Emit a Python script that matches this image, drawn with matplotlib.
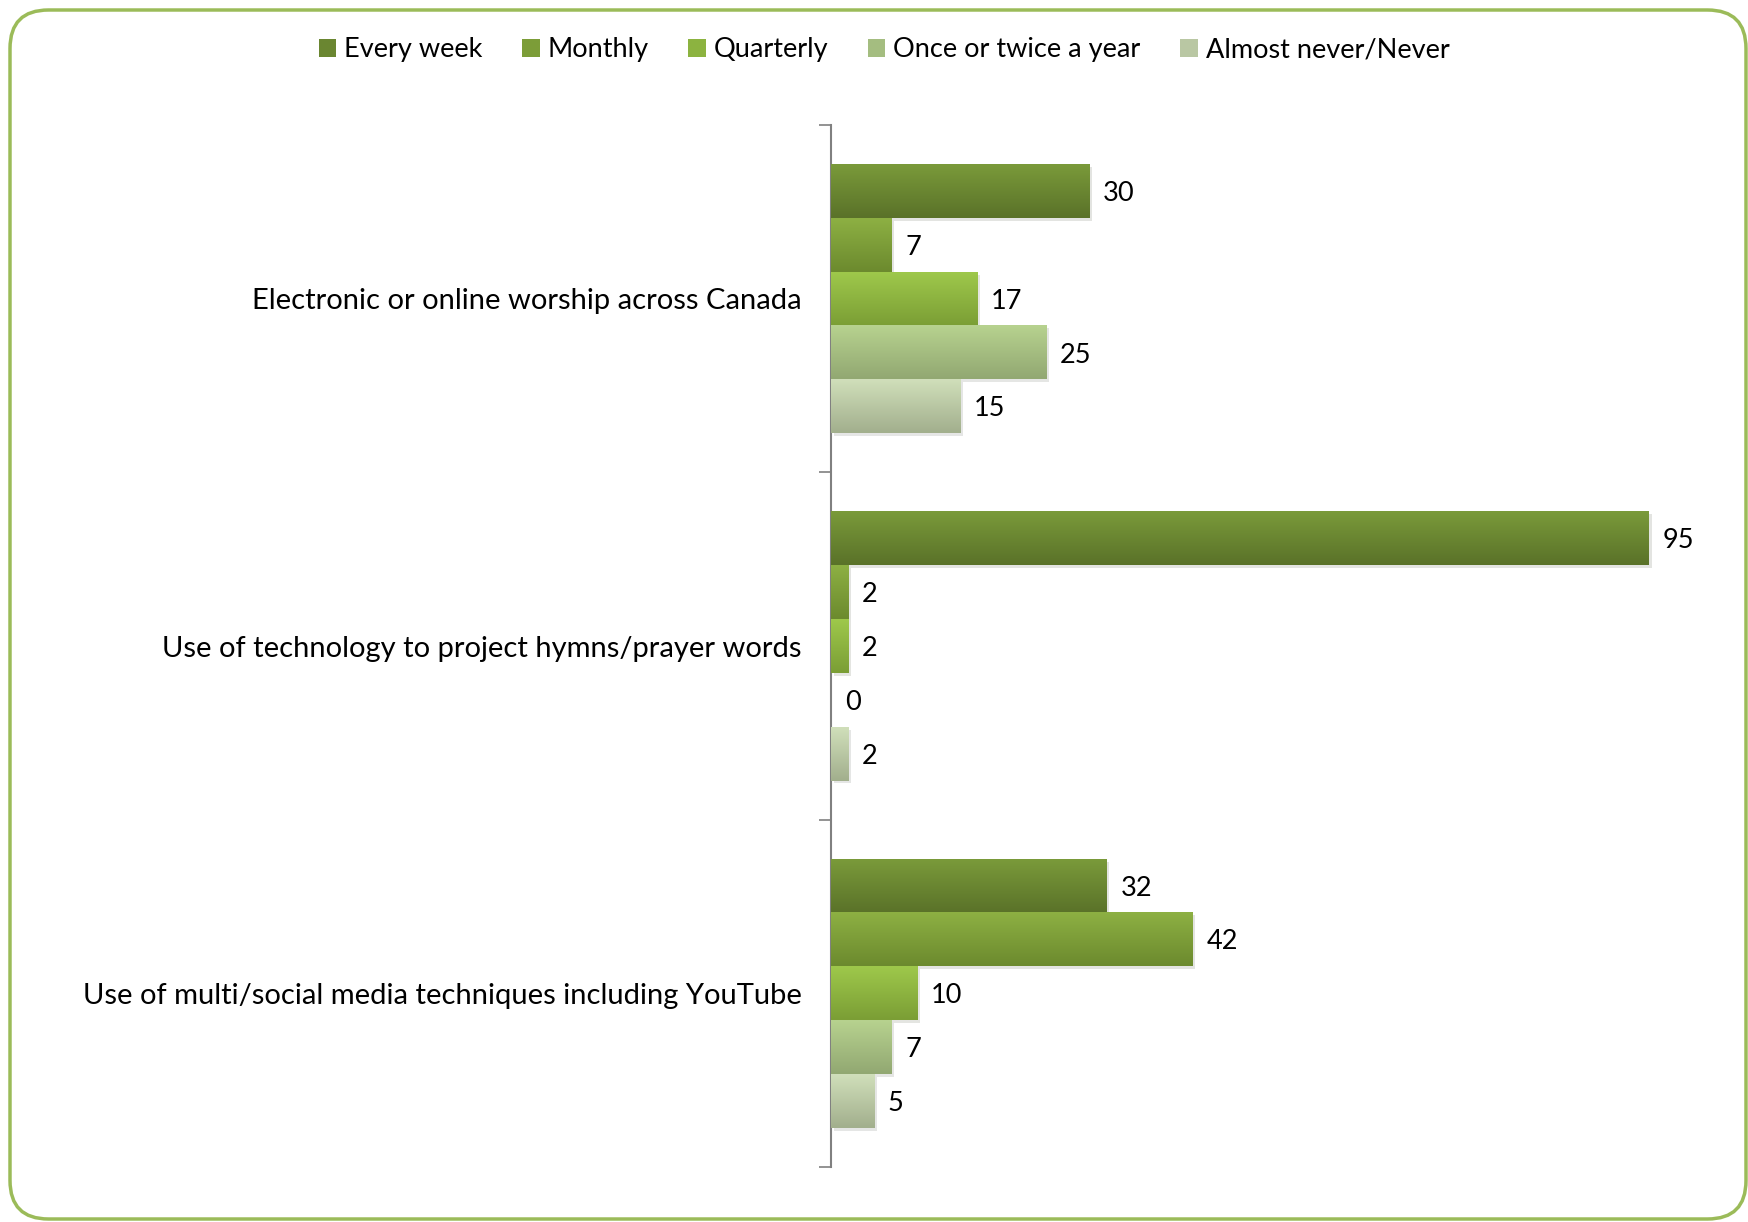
import matplotlib
matplotlib.use("Agg")
import matplotlib.pyplot as plt
import numpy as np
from matplotlib.patches import FancyBboxPatch, Patch
from matplotlib.colors import LinearSegmentedColormap
import matplotlib.patheffects as pe

plt.rcParams['font.family'] = ['Lato', 'DejaVu Sans']

categories = [
    "Electronic or online worship across Canada",
    "Use of technology to project hymns/prayer words",
    "Use of multi/social media techniques including YouTube",
]
series = ["Every week", "Monthly", "Quarterly", "Once or twice a year", "Almost never/Never"]
values = {
    "Every week": [30, 95, 32],
    "Monthly": [7, 2, 42],
    "Quarterly": [17, 2, 10],
    "Once or twice a year": [25, 0, 7],
    "Almost never/Never": [15, 2, 5],
}
# (top colour, bottom colour) of each series gradient
grad = {
    "Every week": ("#7a9a3a", "#5a7229"),
    "Monthly": ("#8db043", "#6c8a2e"),
    "Quarterly": ("#9ec84b", "#7b9e35"),
    "Once or twice a year": ("#b7d28f", "#92a872"),
    "Almost never/Never": ("#d0dfba", "#a2af8d"),
}

W, H = 1749, 1222
fig = plt.figure(figsize=(W / 100, H / 100), dpi=100)

# rounded border
border = FancyBboxPatch((10 / W, 3 / H), (W - 13) / W, (H - 13) / H,
                        boxstyle="round,pad=0,rounding_size=0.022",
                        transform=fig.transFigure, fill=False,
                        edgecolor="#9bbb59", linewidth=2.5, mutation_aspect=W / H)
fig.patches.append(border)

ax = fig.add_axes([831 / W, 1 - 1167 / H, (1692 - 831) / W, (1167 - 125) / H])
n = len(series)
bh = 0.155
y = np.arange(len(categories))
cmaps = {}
for i, s in enumerate(series):
    offs = (i - (n - 1) / 2) * bh
    bars = ax.barh(y + offs, values[s], height=bh, color=grad[s][1], zorder=2,
                   path_effects=[pe.SimplePatchShadow(offset=(2, -2), alpha=0.12), pe.Normal()])
    cmap = LinearSegmentedColormap.from_list(s, [grad[s][0], grad[s][1]])
    cmaps[s] = cmap
    for b, v in zip(bars, values[s]):
        if v > 0:
            x0, y0, w, h = b.get_x(), b.get_y(), b.get_width(), b.get_height()
            ax.imshow(np.linspace(0, 1, 64).reshape(-1, 1), cmap=cmap, aspect="auto",
                      extent=(x0, x0 + w, y0 + h, y0), origin="upper", zorder=3,
                      interpolation="bilinear")
        ax.text(v + 1.6, b.get_y() + b.get_height() / 2, str(v), va="center_baseline", ha="left",
                fontsize=19.5, color="black")

ax.set_xlim(0, 100)
ax.set_ylim(len(categories) - 0.5, -0.5)
ax.set_yticks(y)
ax.set_yticklabels(categories, fontsize=21)
ax.set_yticks(np.arange(-0.5, len(categories), 1), minor=True)
ax.tick_params(axis="y", which="major", length=0, pad=21)
ax.tick_params(axis="y", which="minor", length=9, width=1.2, color="#808080", direction="out")
ax.set_xticks([])
for sp in ["top", "right", "bottom"]:
    ax.spines[sp].set_visible(False)
ax.spines["left"].set_color("#808080")
ax.spines["left"].set_linewidth(1.5)

handles = [Patch(facecolor=cmaps[s](0.5), edgecolor="none") for s in series]
fig.legend(handles, series, loc="center", bbox_to_anchor=(884 / W, 1 - 50 / H), ncol=5,
           frameon=False, fontsize=19.5, handlelength=0.65, handleheight=0.65,
           handletextpad=0.3, columnspacing=1.45)

fig.savefig("out.png", dpi=100)
